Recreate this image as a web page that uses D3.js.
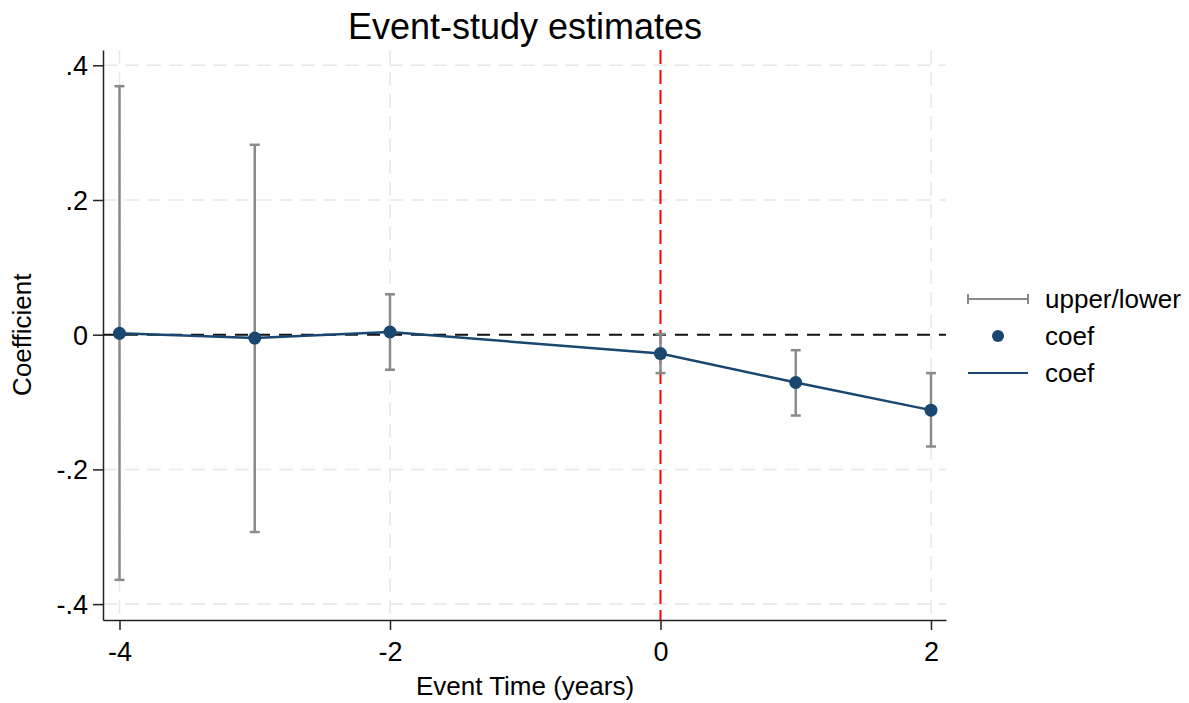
<!DOCTYPE html>
<html>
<head>
<meta charset="utf-8">
<script src="https://cdn.jsdelivr.net/npm/d3@7"></script>
<style>
  body { margin: 0; background: #fff; }
  svg { font-family: "Liberation Sans", Arial, Helvetica, sans-serif; }
</style>
</head>
<body>
<svg id="chart" width="1189" height="703"></svg>
<script>
// event-study estimates
var eventTime = [-4, -3, -2, 0, 1, 2];
var coef  = [0.002, -0.005, 0.004, -0.028, -0.071, -0.112];
var upper = [0.369, 0.282, 0.060, 0.001, -0.023, -0.057];
var lower = [-0.364, -0.293, -0.052, -0.057, -0.120, -0.166];

var xTicks = [-4, -2, 0, 2];
var yTicks = [-0.4, -0.2, 0, 0.2, 0.4];
var legendLabels = ["upper/lower", "coef", "coef"];

var navy = "#1a476f", grey = "#8a8a8a";

var svg = d3.select("#chart");
var plotL = 103, plotR = 946, plotT = 50, plotB = 620;

var x = d3.scaleLinear().domain([-4.122, 2.111]).range([plotL, plotR]);
var y = d3.scaleLinear().domain([-0.4236, 0.4227]).range([plotB, plotT]);

var rows = eventTime.map(function(t, i) {
  return {t: t, b: coef[i], hi: upper[i], lo: lower[i]};
});

// grid
svg.append("g").selectAll("line").data(yTicks.filter(function(d){ return d != 0; }))
  .enter().append("line")
  .attr("x1", plotL).attr("x2", plotR)
  .attr("y1", function(d){ return y(d); }).attr("y2", function(d){ return y(d); })
  .attr("stroke", "#e8e8e8").attr("stroke-width", 1.5).attr("stroke-dasharray", "14,8");
svg.append("g").selectAll("line").data(xTicks.filter(function(d){ return d != 0; }))
  .enter().append("line")
  .attr("x1", function(d){ return x(d); }).attr("x2", function(d){ return x(d); })
  .attr("y1", plotT).attr("y2", plotB)
  .attr("stroke", "#e8e8e8").attr("stroke-width", 1.5).attr("stroke-dasharray", "14,8");

// reference lines
svg.append("line")
  .attr("x1", plotL).attr("x2", plotR).attr("y1", y(0)).attr("y2", y(0))
  .attr("stroke", "#111").attr("stroke-width", 2).attr("stroke-dasharray", "13,9");
svg.append("line")
  .attr("x1", x(0)).attr("x2", x(0)).attr("y1", plotT).attr("y2", plotB)
  .attr("stroke", "#ff0000").attr("stroke-width", 2).attr("stroke-dasharray", "14,6");

// error bars
var eb = svg.append("g").attr("stroke", grey).attr("stroke-width", 2.5);
eb.selectAll(".bar").data(rows).enter().append("line")
  .attr("x1", function(d){ return x(d.t); }).attr("x2", function(d){ return x(d.t); })
  .attr("y1", function(d){ return y(d.hi); }).attr("y2", function(d){ return y(d.lo); });
["hi", "lo"].forEach(function(k) {
  eb.selectAll(".cap" + k).data(rows).enter().append("line")
    .attr("x1", function(d){ return x(d.t) - 5; }).attr("x2", function(d){ return x(d.t) + 5; })
    .attr("y1", function(d){ return y(d[k]); }).attr("y2", function(d){ return y(d[k]); });
});

// coef line + dots
var line = d3.line().x(function(d){ return x(d.t); }).y(function(d){ return y(d.b); });
svg.append("path").datum(rows).attr("d", line)
  .attr("fill", "none").attr("stroke", navy).attr("stroke-width", 2.5);
svg.append("g").selectAll("circle").data(rows).enter().append("circle")
  .attr("cx", function(d){ return x(d.t); }).attr("cy", function(d){ return y(d.b); })
  .attr("r", 6.5).attr("fill", navy);

// axes
var xAxis = svg.append("g").attr("transform", "translate(0," + plotB + ")")
  .call(d3.axisBottom(x).tickValues(xTicks).tickSize(10).tickSizeOuter(0)
    .tickFormat(function(d){ return d3.format("d")(d).replace("−", "-"); }));
var yAxis = svg.append("g").attr("transform", "translate(" + plotL + ",0)")
  .call(d3.axisLeft(y).tickValues(yTicks).tickSize(10).tickSizeOuter(0)
    .tickFormat(function(d){ return d == 0 ? "0" : d3.format(".1f")(d).replace("−", "-").replace("0.", "."); }));
[xAxis, yAxis].forEach(function(a) {
  a.select(".domain").attr("stroke", "#222").attr("stroke-width", 1.5);
  a.selectAll(".tick line").attr("stroke", "#222").attr("stroke-width", 1.5);
  a.selectAll("text").attr("font-size", 27).attr("fill", "#000");
  a.attr("font-family", null).attr("font-size", null);
});
xAxis.selectAll("text").attr("y", 41).attr("dy", 0);
yAxis.selectAll("text").attr("x", -15).attr("dy", "0.35em");

// titles
svg.append("text").attr("x", 525).attr("y", 39).attr("text-anchor", "middle")
  .attr("font-size", 36).text("Event-study estimates");
svg.append("text").attr("x", 525).attr("y", 695).attr("text-anchor", "middle")
  .attr("font-size", 26).text("Event Time (years)");
svg.append("text").attr("transform", "translate(31," + y(0) + ") rotate(-90)")
  .attr("text-anchor", "middle").attr("font-size", 26).text("Coefficient");

// legend
var lg = svg.append("g");
var ly = [299, 336, 373];
lg.append("line").attr("x1", 968).attr("x2", 1028).attr("y1", ly[0]).attr("y2", ly[0])
  .attr("stroke", grey).attr("stroke-width", 2);
[968, 1028].forEach(function(cx) {
  lg.append("line").attr("x1", cx).attr("x2", cx).attr("y1", ly[0] - 5).attr("y2", ly[0] + 5)
    .attr("stroke", grey).attr("stroke-width", 2);
});
lg.append("circle").attr("cx", 998).attr("cy", ly[1]).attr("r", 6).attr("fill", navy);
lg.append("line").attr("x1", 968).attr("x2", 1028).attr("y1", ly[2]).attr("y2", ly[2])
  .attr("stroke", navy).attr("stroke-width", 2);
lg.selectAll("text").data(legendLabels).enter().append("text")
  .attr("x", 1045).attr("y", function(d, i){ return ly[i]; }).attr("dy", "0.35em")
  .attr("font-size", 26).text(function(d){ return d; });
</script>
</body>
</html>
